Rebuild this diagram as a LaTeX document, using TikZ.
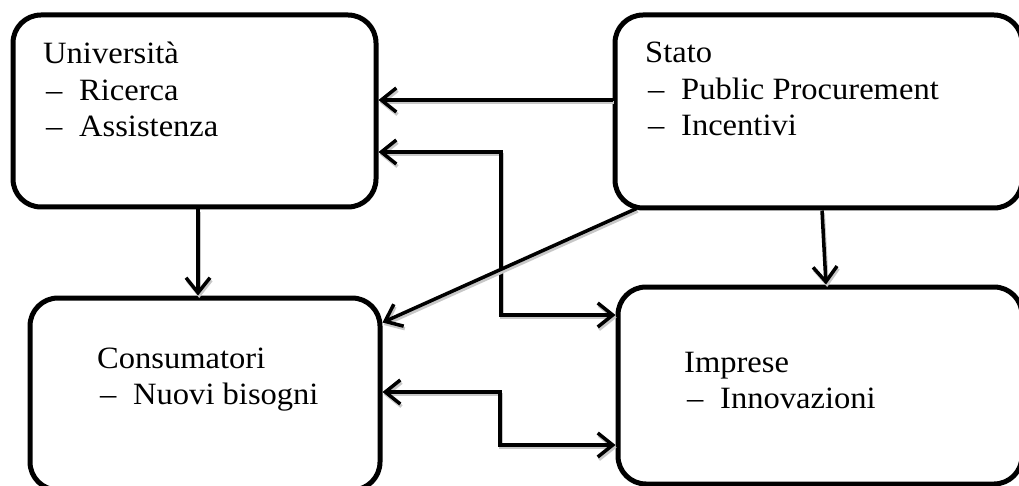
\documentclass[tikz,border=0pt]{standalone}
\usepackage{fontspec}
\setmainfont{Liberation Serif}[FakeStretch=1.05]
\usetikzlibrary{arrows.meta,calc}
\tikzset{
  box/.style={draw=black, line width=5pt, rounded corners=28pt, inner sep=0pt, fill=white},
  lbl/.style={anchor=base west, inner sep=0pt, font=\fontsize{31}{36.5}\selectfont},
  shad/.style={preaction={draw=black!22, line width=3.5pt, transform canvas={shift={(1.2pt,-2.5pt)}}}},
  arr/.style={line width=3.5pt, shad, -{Straight Barb[length=15pt,width=24pt]}},
  dbl/.style={line width=3.5pt, shad, {Straight Barb[length=15pt,width=24pt]}-{Straight Barb[length=15pt,width=24pt]}},
}
\newcommand{\itm}[1]{\hspace*{3pt}\makebox[33pt][l]{–}#1}
\begin{document}
\begin{tikzpicture}[x=1pt,y=-1pt]
\useasboundingbox (0,0) rectangle (1019,486);
\clip (0,0) rectangle (1019,486);
% boxes
\node[box, minimum width=363pt, minimum height=192pt] (univ) at (194.5,111) {};
\node[box, minimum width=407pt, minimum height=193pt] (stato) at (818.5,111.5) {};
\node[box, minimum width=350pt, minimum height=192pt] (cons) at (205,394) {};
\node[box, minimum width=404pt, minimum height=197pt] (impr) at (820,385.5) {};
% texts
\node[lbl] (tuniv) at (43,64) {\begin{tabular}[t]{@{}l@{}}Università\\ \itm{Ricerca}\\ \itm{Assistenza}\end{tabular}};
\node[lbl] (tstato) at (645,63) {\begin{tabular}[t]{@{}l@{}}Stato\\ \itm{Public Procurement}\\ \itm{Incentivi}\end{tabular}};
\node[lbl] (tcons) at (97,368) {\begin{tabular}[t]{@{}l@{}}Consumatori\\ \itm{Nuovi bisogni}\end{tabular}};
\node[lbl] (timpr) at (684,372) {\begin{tabular}[t]{@{}l@{}}Imprese\\ \itm{Innovazioni}\end{tabular}};
% connector helpers
\coordinate (xa) at (501,0);
\coordinate (xb) at (500,0);
% connectors
\draw[arr] ([yshift=11.5pt]stato.west) -- ([yshift=11.5pt]stato.west -| univ.east);
\draw[dbl] ([yshift=-41pt]univ.east) -- ([yshift=-41pt]univ.east -| xa) |- ([yshift=70.5pt]impr.west);
\draw[dbl] ([yshift=2pt]cons.east) -- ([yshift=2pt]cons.east -| xb) |- ([yshift=-59.5pt]impr.west);
\draw[arr] ([xshift=24pt,yshift=2pt]stato.south west) -- ([yshift=-27pt]cons.north east);
\draw[arr] ([xshift=3.5pt]univ.south) -- ([xshift=3.5pt]univ.south |- cons.north);
\draw[arr] ([xshift=3.5pt]stato.south) -- ([xshift=6pt]impr.north);
\end{tikzpicture}
\end{document}
